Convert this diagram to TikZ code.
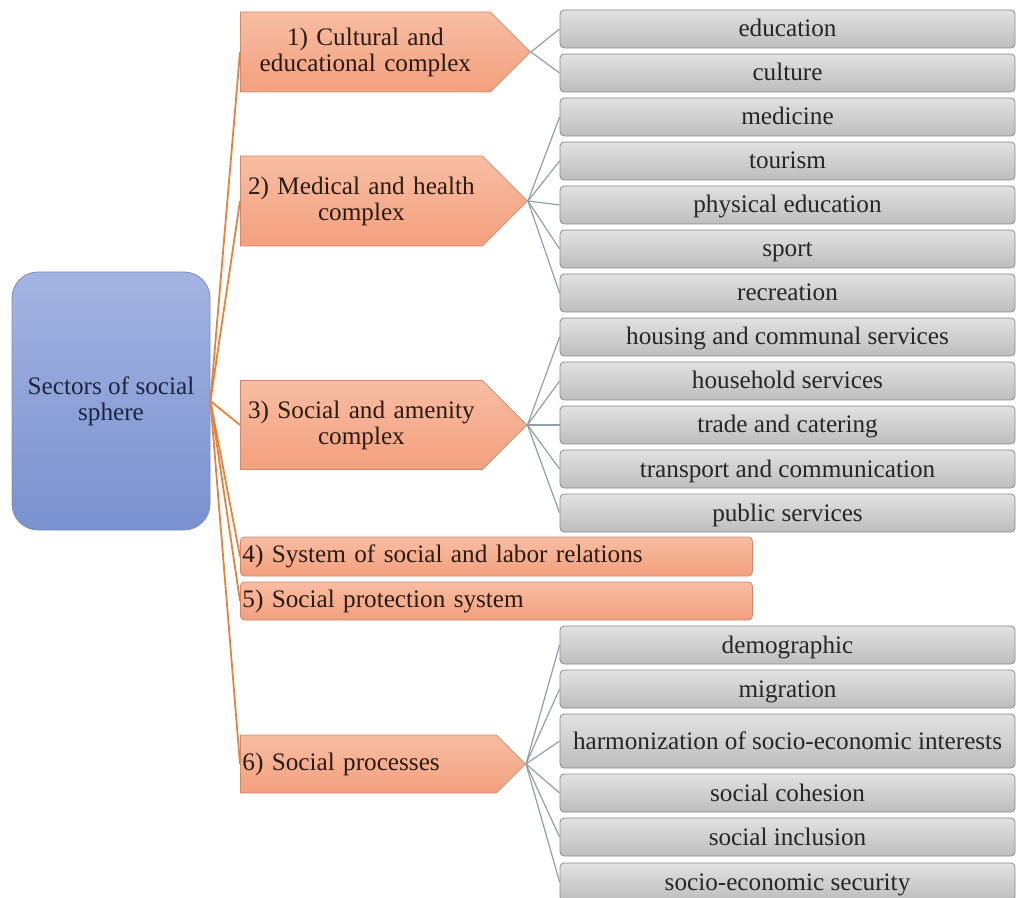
\documentclass[tikz,border=0pt]{standalone}
\usepackage{fontspec}
\setmainfont{Liberation Serif}
\usepackage{xcolor}
\usetikzlibrary{shapes.symbols, positioning}

\definecolor{rootTop}{HTML}{A4B4E2}
\definecolor{rootBot}{HTML}{7A91D0}
\definecolor{rootLine}{HTML}{7D8DB8}
\definecolor{rootText}{HTML}{1C2540}
\definecolor{secTop}{HTML}{F8BDA3}
\definecolor{secBot}{HTML}{F3A07E}
\definecolor{secLine}{HTML}{C98A70}
\definecolor{secText}{HTML}{2B1A10}
\definecolor{leafTop}{HTML}{E2E2E2}
\definecolor{leafBot}{HTML}{BDBDBD}
\definecolor{leafLine}{HTML}{8A8A8A}
\definecolor{linkOrange}{HTML}{E4823F}
\definecolor{linkGray}{HTML}{8FA0AA}
\newcommand\diagfont{\fontsize{12.6}{13}\selectfont}

\begin{document}
\begin{tikzpicture}[
  x=0.5pt, y=-0.5pt,
  root/.style={draw=rootLine, rounded corners=13pt, top color=rootTop, bottom color=rootBot, minimum width=99pt, minimum height=129pt, align=center, text=rootText, font=\diagfont},
  sector/.style={signal, signal to=east, signal pointer angle=90, draw=secLine, top color=secTop, bottom color=secBot, inner xsep=0pt, inner ysep=0pt, anchor=west, text=secText, font=\diagfont},
  band/.style={draw=secLine, rounded corners=2pt, top color=secTop, bottom color=secBot, anchor=west, text width=254pt, inner xsep=1pt, inner ysep=0pt, align=left, text=secText, font=\diagfont},
  leaf/.style={draw=leafLine, rounded corners=2pt, top color=leafTop, bottom color=leafBot, minimum width=227.5pt, minimum height=19pt, inner sep=0pt, text height=10pt, text depth=2pt, text=black!85, font=\diagfont},
  link/.style={draw=linkOrange, line width=0.9pt},
  sublink/.style={draw=linkGray, line width=0.6pt}
]
  \useasboundingbox (0,0) rectangle (1017,898);

  \node[root] (root) at (111,401) {Sectors of social\\sphere};

  \node[sector, text width=125pt, minimum height=40pt, align=center] (s1) at (240,52) {1) Cultural and\\educational complex};
  \node[sector, text width=121pt, minimum height=45pt, align=center] (s2) at (240,201) {2) Medical and health\\complex};
  \node[sector, text width=121pt, minimum height=44.5pt, align=center] (s3) at (240,425) {3) Social and amenity\\complex};
  \node[band, minimum height=19.5pt] (s4) at (240,556.5) {4) System of social and labor relations};
  \node[band, minimum height=19pt] (s5) at (240,601) {5) Social protection system};
  \node[sector, text width=128pt, minimum height=29pt, align=left] (s6) at (240,764) {\hspace{1pt}6) Social processes};

  \node[leaf] (edu) at (787.5,29) {education};
  \node[leaf] (cult) at (787.5,73) {culture};
  \node[leaf] (med) at (787.5,117) {medicine};
  \node[leaf] (tour) at (787.5,161) {tourism};
  \node[leaf] (phys) at (787.5,205) {physical education};
  \node[leaf] (sport) at (787.5,249) {sport};
  \node[leaf] (recr) at (787.5,293) {recreation};
  \node[leaf] (hous) at (787.5,337) {housing and communal services};
  \node[leaf] (hhold) at (787.5,381) {household services};
  \node[leaf] (trade) at (787.5,425) {trade and catering};
  \node[leaf] (trans) at (787.5,469) {transport and communication};
  \node[leaf] (pub) at (787.5,513) {public services};
  \node[leaf] (demo) at (787.5,645) {demographic};
  \node[leaf] (migr) at (787.5,689) {migration};
  \node[leaf, minimum height=27pt] (harm) at (787.5,741) {harmonization of socio-economic interests};
  \node[leaf] (coh) at (787.5,793) {social cohesion};
  \node[leaf] (incl) at (787.5,837) {social inclusion};
  \node[leaf] (secu) at (787.5,882) {socio-economic security};

  \foreach \s in {s1,s2,s3,s4,s5,s6}
    \draw[link] (root.east) -- (\s.west);

  \foreach \l in {edu,cult}
    \draw[sublink] (s1.east) -- (\l.west);
  \foreach \l in {med,tour,phys,sport,recr}
    \draw[sublink] (s2.east) -- (\l.west);
  \foreach \l in {hous,hhold,trade,trans,pub}
    \draw[sublink] (s3.east) -- (\l.west);
  \foreach \l in {demo,migr,harm,coh,incl,secu}
    \draw[sublink] (s6.east) -- (\l.west);
\end{tikzpicture}
\end{document}
